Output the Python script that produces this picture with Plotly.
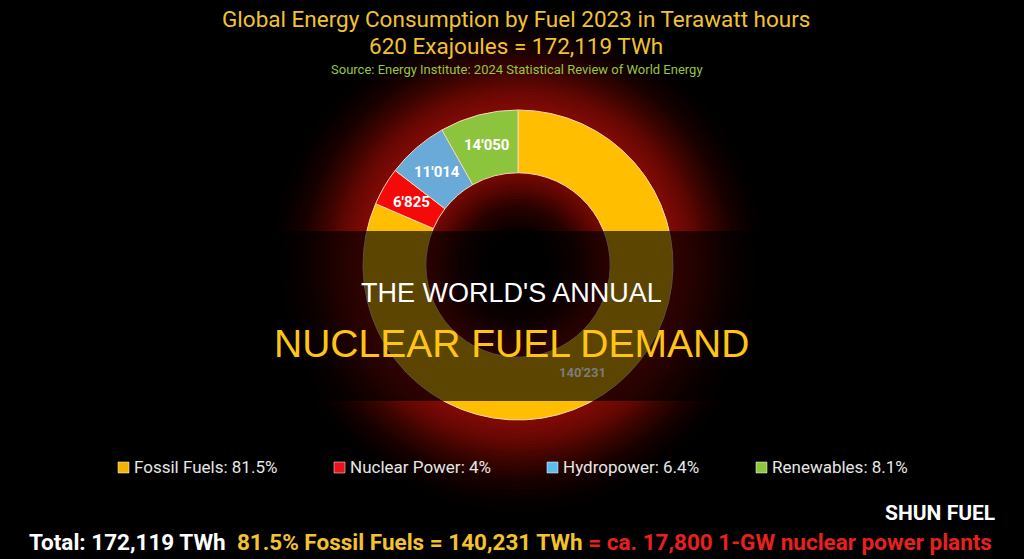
import math
import plotly.graph_objects as go

# ---------------- data ----------------
categories = ["Fossil Fuels", "Nuclear Power", "Hydropower", "Renewables"]
values_twh = [140231, 6825, 11014, 14050]
legend_pct = ["81.5%", "4%", "6.4%", "8.1%"]
slice_colors = ["#FFBE00", "#F50A0A", "#6AAAD8", "#8CC43E"]
legend_colors = ["#F2B400", "#E8141B", "#5BBDEB", "#8DC63F"]

title_line1 = "Global Energy Consumption by Fuel 2023 in Terawatt hours"
title_line2 = "620 Exajoules = 172,119 TWh"
source_line = "Source: Energy Institute: 2024 Statistical Review of World Energy"
banner_top = "THE WORLD'S ANNUAL"
banner_bottom = "NUCLEAR FUEL DEMAND"
footer_total = "Total: 172,119 TWh"
footer_fossil = "81.5% Fossil Fuels = 140,231 TWh"
footer_nuclear = "= ca. 17,800 1-GW nuclear power plants"
watermark = "SHUN FUEL"

# ---------------- geometry helpers ----------------
W, H = 1024, 559
CX, CY, R = 518, 265, 155
HOLE = 0.595


def px(x):
    return x / W


def py(y):
    return 1 - y / H


fig = go.Figure()
fig.add_trace(go.Pie(
    labels=categories,
    values=values_twh,
    textinfo="none",
    hole=HOLE,
    sort=False,
    direction="clockwise",
    rotation=0,
    marker=dict(colors=slice_colors, line=dict(color="#F3D9B8", width=1)),
    domain=dict(x=[px(CX - R), px(CX + R)], y=[py(CY + R), py(CY - R)]),
    showlegend=False,
    hoverinfo="label+value",
))

shapes = []

# red radial glow behind the donut (stacked opaque discs, large to small)
stops = [
    (0, (0, 0, 0)),
    (35, (6, 0, 0)),
    (60, (40, 2, 0)),
    (80, (90, 6, 2)),
    (95, (120, 9, 4)),
    (150, (130, 11, 5)),
    (160, (125, 10, 5)),
    (178, (100, 7, 3)),
    (198, (58, 4, 1)),
    (218, (24, 1, 0)),
    (238, (6, 0, 0)),
    (252, (0, 0, 0)),
]


def glow(r):
    for (r0, c0), (r1, c1) in zip(stops[:-1], stops[1:]):
        if r0 <= r <= r1:
            t = (r - r0) / (r1 - r0)
            return tuple(int(round(a + (b - a) * t)) for a, b in zip(c0, c1))
    return (0, 0, 0)


r = 252
while r > 0:
    c = glow(r)
    shapes.append(dict(
        type="circle", xref="paper", yref="paper", layer="below",
        x0=px(CX - r), x1=px(CX + r), y0=py(CY + r), y1=py(CY - r),
        fillcolor=f"rgb({c[0]},{c[1]},{c[2]})", line=dict(width=0),
    ))
    r -= 3

# dark banner band across the middle
shapes.append(dict(
    type="rect", xref="paper", yref="paper", layer="above",
    x0=0, x1=1, y0=py(401), y1=py(231),
    fillcolor="rgba(0,0,0,0.64)", line=dict(width=0),
))

# legend squares
legend_x = [118, 334, 547, 756]
for lx, col in zip(legend_x, legend_colors):
    shapes.append(dict(
        type="rect", xref="paper", yref="paper", layer="above",
        x0=px(lx), x1=px(lx + 11), y0=py(473), y1=py(462),
        fillcolor=col, line=dict(color="#FFFFFF", width=0.5),
    ))

annotations = []


def ann(text, x, y, size, color, family="Roboto", xanchor="center", weight="normal"):
    annotations.append(dict(
        text=text, x=px(x), y=py(y), xref="paper", yref="paper",
        xanchor=xanchor, yanchor="middle", showarrow=False,
        font=dict(family=family, size=size, color=color, weight=weight),
    ))


# slice value labels at each slice's mid-angle, mid-ring radius
total = sum(values_twh)
r_mid = R * (1 + HOLE) / 2
cum = 0
for i, v in enumerate(values_twh):
    a = 2 * math.pi * (cum + v / 2) / total
    cum += v
    lx = CX + r_mid * math.sin(a)
    ly = CY - r_mid * math.cos(a)
    label = f"{v:,}".replace(",", "'")
    if i == 0:
        ann(label, lx - 3, ly + 4, 13, "#7C7C7C", weight="bold")
    else:
        ann(label, lx, ly, 15, "#FFFFFF", weight="bold")

ann(title_line1, 516, 19, 22.5, "#F2C230")
ann(title_line2, 516, 46, 22.5, "#F2C230")
ann(source_line, 517, 69, 13, "#98C441")

for lx, cat, pct in zip(legend_x, categories, legend_pct):
    ann(f"{cat}: {pct}", lx + 14, 467, 17, "#E6E6E6", xanchor="left")

ann(banner_top, 511, 293, 27, "#FFFFFF", family="Liberation Sans")
ann(banner_bottom, 511, 343, 39, "#FFC515", family="Liberation Sans")

ann(watermark, 997, 513, 21, "#FFFFFF", xanchor="right", weight="bold")
footer = (f"<span style='color:#FFFFFF'>{footer_total}</span>  "
          f"<span style='color:#F2C230'>{footer_fossil}</span> "
          f"<span style='color:#E8201E'>{footer_nuclear}</span>")
ann(footer, 510, 542, 22.5, "#FFFFFF", weight="bold")

fig.update_layout(
    width=W, height=H,
    margin=dict(l=0, r=0, t=0, b=0),
    paper_bgcolor="#000000",
    plot_bgcolor="#000000",
    shapes=shapes,
    annotations=annotations,
)

fig.write_html("out.html")
